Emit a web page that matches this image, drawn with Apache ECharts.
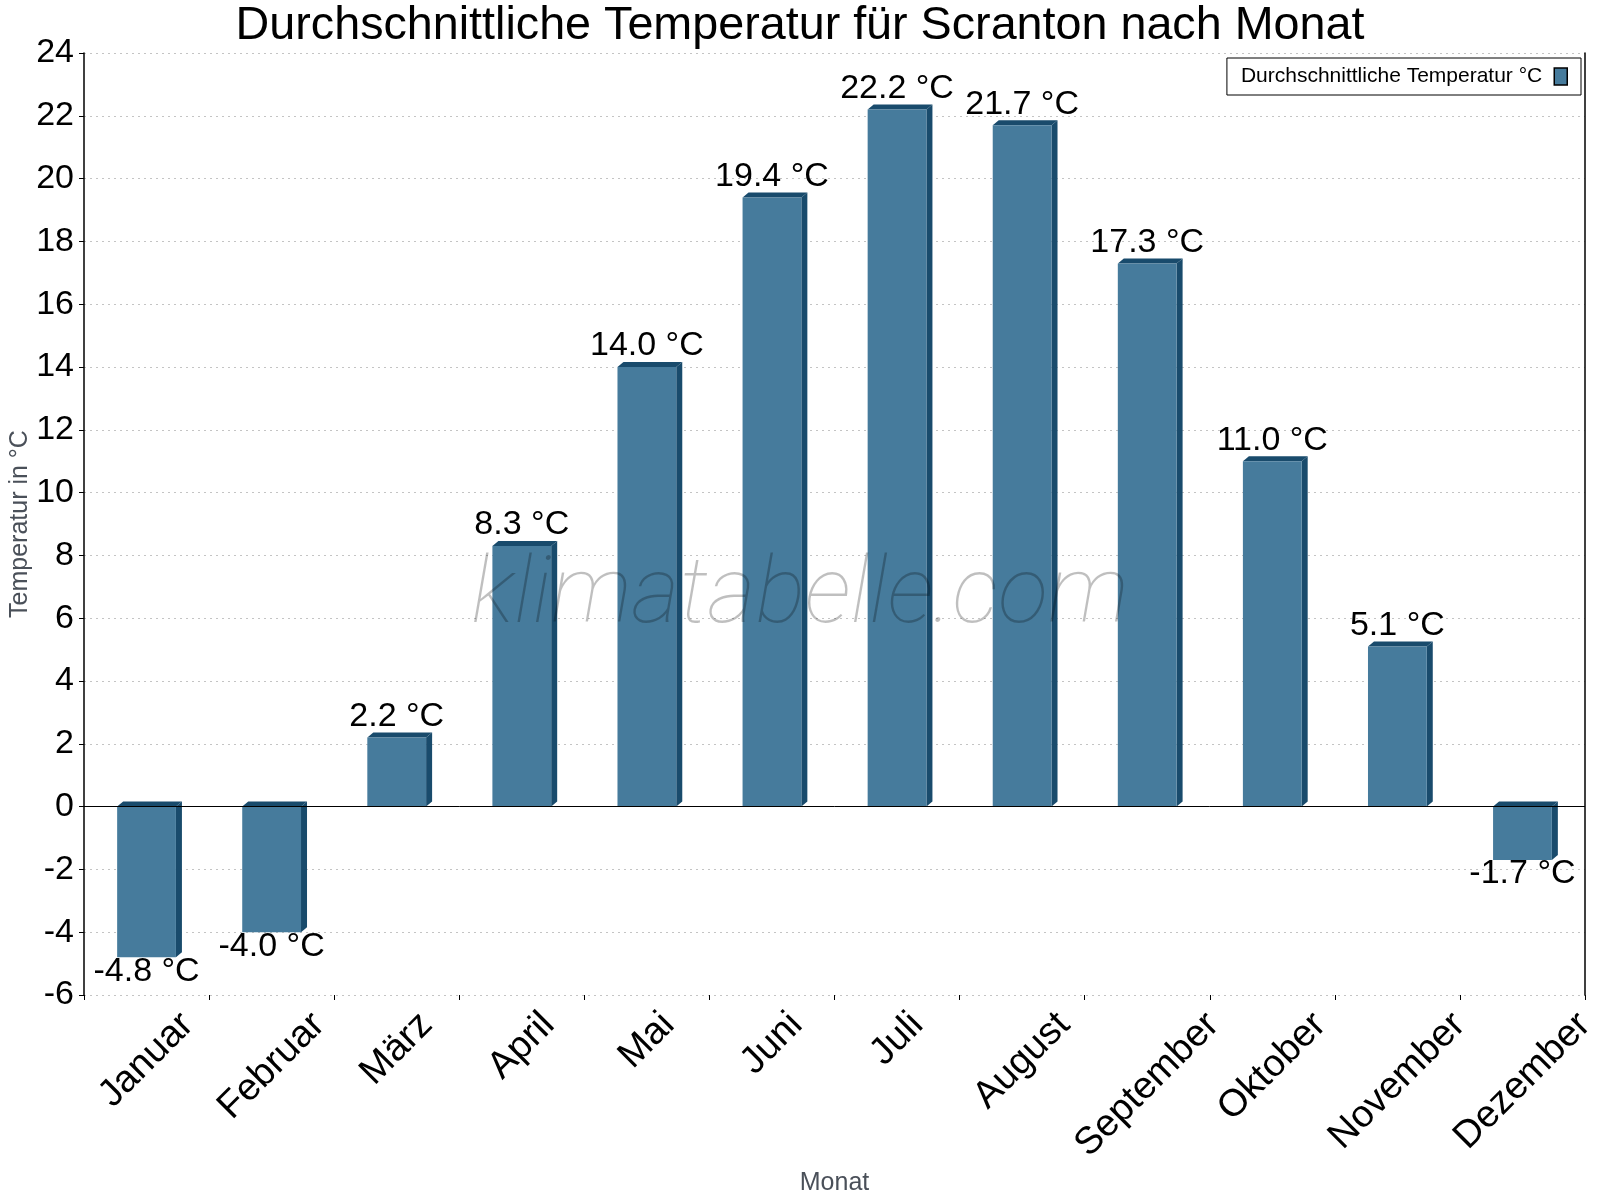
<!DOCTYPE html>
<html><head><meta charset="utf-8">
<script src="https://cdn.jsdelivr.net/npm/echarts@6/dist/echarts.min.js"></script>
<style>html,body{margin:0;padding:0;background:#fff}#c{width:1600px;height:1200px}</style>
</head><body><div id="c"></div><script>
const months = ['Januar','Februar','März','April','Mai','Juni','Juli','August','September','Oktober','November','Dezember'];
const temps = [-4.8,-4.0,2.2,8.3,14.0,19.4,22.2,21.7,17.3,11.0,5.1,-1.7];
const seriesName = 'Durchschnittliche Temperatur °C';
const yMin = -6, yMax = 24, yStep = 2;

const FONT = '"Liberation Sans", Arial, sans-serif';
const FRONT = '#467b9c';
const DARK = '#194b6c';
const XFS = 38;

// measure label widths to mimic rotated-box placement
const cv = document.createElement('canvas').getContext('2d');
cv.font = XFS + 'px "Liberation Sans"';
const widths = months.map(m => cv.measureText(m).width);
const wMin = Math.min(...widths);
const rich = {};
months.forEach((m, i) => {
  const p = 0.5 * (widths[i] - wMin);
  rich['m' + i] = { fontSize: XFS, fontFamily: FONT, color: '#000', padding: [p, p, 0, 0] };
});

const chart = echarts.init(document.getElementById('c'), null, {renderer: 'canvas'});
chart.setOption({
  backgroundColor: '#fff',
  animation: false,
  title: {
    text: 'Durchschnittliche Temperatur für Scranton nach Monat',
    left: 'center', top: -2,
    textStyle: {fontSize: 46.7, fontWeight: 'normal', color: '#000', fontFamily: FONT}
  },
  legend: {
    right: 19, top: 58, align: 'right',
    padding: [8, 13, 8, 14],
    borderColor: '#000', borderWidth: 1,
    itemWidth: 13, itemHeight: 17,
    textStyle: {fontSize: 21, color: '#000', fontFamily: FONT, padding: [0, 7, 0, 0]},
    data: [{name: seriesName, icon: 'rect', itemStyle: {color: FRONT, borderColor: '#000', borderWidth: 1.5}}]
  },
  grid: {left: 84, right: 15, top: 53, bottom: 205, containLabel: false, outerBoundsMode: 'none'},
  xAxis: {
    type: 'category', data: months, boundaryGap: true,
    name: 'Monat', nameLocation: 'middle', nameGap: 176, nameMoveOverlap: false,
    nameTextStyle: {fontSize: 25, color: '#4a5059', fontFamily: FONT},
    axisLine: {show: false, onZero: false},
    axisTick: {show: true, length: 5, lineStyle: {color: '#000', width: 1}},
    axisLabel: {
      interval: 0, rotate: 45, align: 'center', verticalAlign: 'middle',
      margin: 24 + 0.354 * wMin,
      fontSize: XFS, fontFamily: FONT, color: '#000',
      formatter: (v, i) => '{m' + i + '|' + v + '}',
      rich: rich
    },
    splitLine: {show: false}
  },
  yAxis: [{
    type: 'value', min: yMin, max: yMax, interval: yStep,
    name: 'Temperatur in °C', nameLocation: 'middle', nameGap: 51, nameRotate: 90, nameMoveOverlap: false,
    nameTextStyle: {fontSize: 25, color: '#4a5059', fontFamily: FONT},
    axisLine: {show: true, lineStyle: {color: '#000', width: 1.5}},
    axisTick: {show: true, length: 5, lineStyle: {color: '#000'}},
    axisLabel: {fontSize: 34, color: '#000', fontFamily: FONT, margin: 10},
    splitLine: {show: true, lineStyle: {color: '#c4c4c4', type: [2, 4], width: 1}}
  }, {
    type: 'value', min: yMin, max: yMax, interval: yStep, position: 'right',
    axisLine: {show: true, lineStyle: {color: '#000', width: 1.5}},
    axisTick: {show: false}, axisLabel: {show: false}, splitLine: {show: false}
  }],
  graphic: [{
    type: 'text', left: 'center', top: 552, z: 100, silent: true,
    style: {text: 'klimatabelle.com', font: 'italic 100 93px Roboto', fill: 'rgba(0,0,0,0.25)'}
  }],
  series: [{
    name: seriesName,
    type: 'custom',
    itemStyle: {color: FRONT},
    data: temps.map((v, i) => [i, v]),
    encode: {x: 0, y: 1},
    markLine: {
      silent: true, symbol: 'none', label: {show: false},
      lineStyle: {color: '#000', width: 1, type: 'solid'},
      data: [{yAxis: 0}]
    },
    renderItem: function (params, api) {
      const idx = api.value(0), v = api.value(1);
      const bw = api.size([1, 0])[0] * 0.47;
      const c = api.coord([idx, v]);
      const z = api.coord([idx, 0]);
      const x0 = c[0] - bw / 2, x1 = c[0] + bw / 2;
      const yTop = Math.min(c[1], z[1]), yBot = Math.max(c[1], z[1]);
      const dx = 6, dy = 5;
      return {
        type: 'group',
        children: [
          {type: 'polygon', shape: {points: [[x0, yTop], [x0 + dx, yTop - dy], [x1 + dx, yTop - dy], [x1, yTop]]}, style: {fill: DARK}},
          {type: 'polygon', shape: {points: [[x1, yTop], [x1 + dx, yTop - dy], [x1 + dx, yBot - dy], [x1, yBot]]}, style: {fill: DARK}},
          {type: 'rect', shape: {x: x0, y: yTop, width: bw, height: yBot - yTop}, style: {fill: FRONT}},
          {type: 'text', z2: 50, style: {
            text: v.toFixed(1) + ' °C', x: c[0], y: v >= 0 ? yTop - 4 : yBot - 3,
            align: 'center', verticalAlign: v >= 0 ? 'bottom' : 'top',
            fontSize: 34, fontFamily: FONT, fill: '#000'
          }}
        ]
      };
    }
  }]
});
</script></body></html>
